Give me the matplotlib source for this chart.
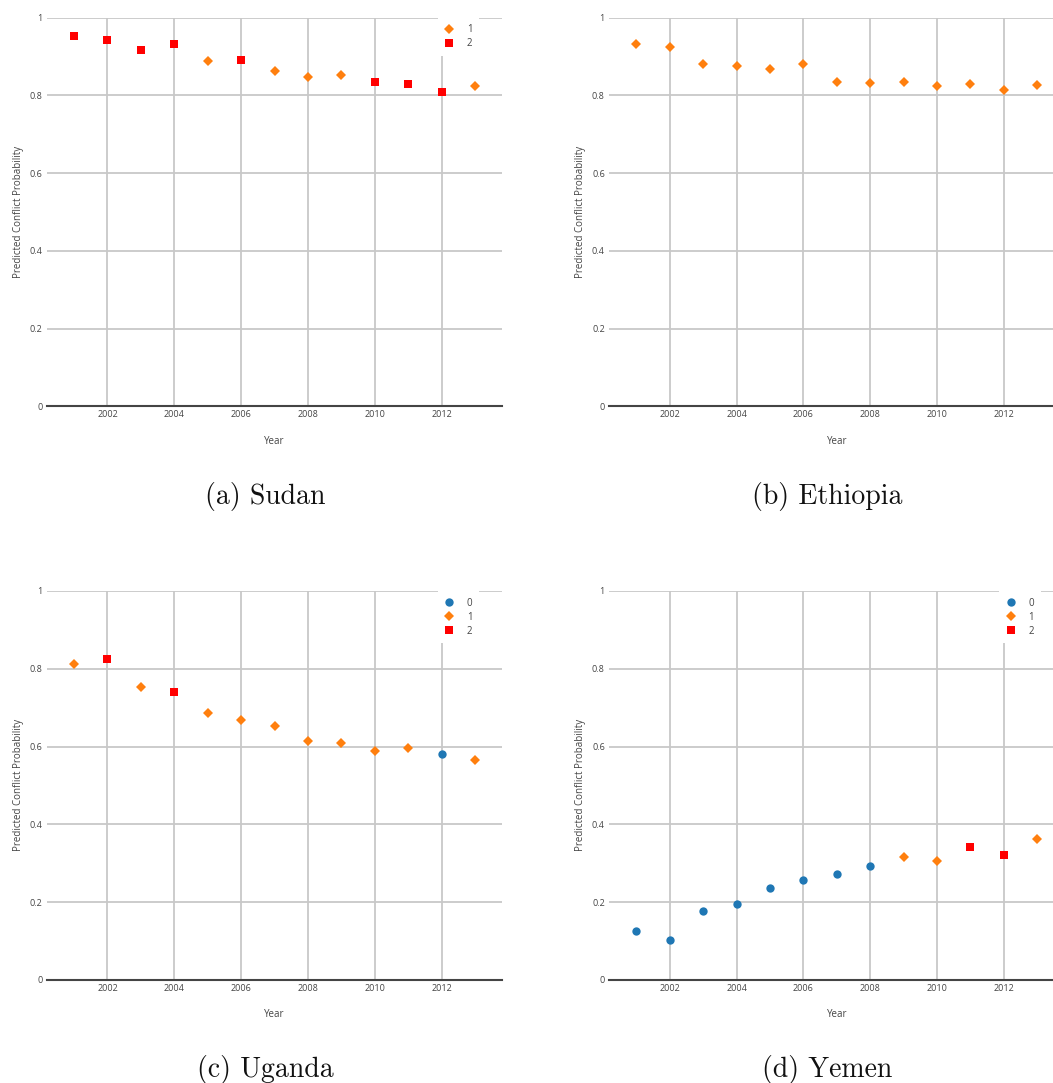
import matplotlib
matplotlib.use('Agg')
import matplotlib.pyplot as plt
from matplotlib.lines import Line2D

plt.rcParams['font.family'] = ['Open Sans', 'DejaVu Sans']

# ---------------- data ----------------
years = [2001, 2002, 2003, 2004, 2005, 2006, 2007, 2008, 2009, 2010, 2011, 2012, 2013]

sudan_prob = [0.952, 0.942, 0.916, 0.931, 0.889, 0.890, 0.862, 0.847, 0.852, 0.834, 0.829, 0.808, 0.823]
sudan_cls = [2, 2, 2, 2, 1, 2, 1, 1, 1, 2, 2, 2, 1]

ethiopia_prob = [0.931, 0.924, 0.880, 0.876, 0.867, 0.880, 0.835, 0.831, 0.835, 0.824, 0.828, 0.813, 0.826]
ethiopia_cls = [1, 1, 1, 1, 1, 1, 1, 1, 1, 1, 1, 1, 1]

uganda_prob = [0.811, 0.824, 0.752, 0.741, 0.686, 0.669, 0.652, 0.614, 0.609, 0.588, 0.597, 0.581, 0.565]
uganda_cls = [1, 2, 1, 2, 1, 1, 1, 1, 1, 1, 1, 0, 1]

yemen_prob = [0.125, 0.103, 0.177, 0.194, 0.235, 0.256, 0.273, 0.292, 0.316, 0.305, 0.342, 0.322, 0.362]
yemen_cls = [0, 0, 0, 0, 0, 0, 0, 0, 1, 1, 2, 2, 1]

captions = ['(a) Sudan', '(b) Ethiopia', '(c) Uganda', '(d) Yemen']
class_labels = ['0', '1', '2']
x_ticks = [2002, 2004, 2006, 2008, 2010, 2012]
y_ticks = [0, 0.2, 0.4, 0.6, 0.8, 1]
y_tick_labels = ['0', '0.2', '0.4', '0.6', '0.8', '1']
x_label = 'Year'
y_label = 'Predicted Conflict Probability'

series = [(sudan_prob, sudan_cls), (ethiopia_prob, ethiopia_cls),
          (uganda_prob, uganda_cls), (yemen_prob, yemen_cls)]

# ---------------- style ----------------
W, H = 1053, 1083
styles = {
    0: dict(marker='o', color='#1f77b4', ms=6.0),
    1: dict(marker='D', color='#ff7f0e', ms=4.7),
    2: dict(marker='s', color='#ff0000', ms=5.6),
}
TXT = '#444444'
GRID = '#c8c8c8'
FS = 6.5

# axes boxes in pixels: left, top, width, height
ax_w, ax_h = 455.6, 388.8
boxes = [(46.7, 17.5), (609.0, 17.5), (46.7, 591.0), (609.0, 591.0)]
legend_anchor = [(437.5, 17.5), None, (437.5, 591.0), (999.0, 591.0)]
caption_pos = [(265, 504), (827.5, 504), (265, 1076.5), (827.5, 1076.5)]

fig = plt.figure(figsize=(W / 100, H / 100), dpi=100)

for i, ((probs, cls), (lx, ty)) in enumerate(zip(series, boxes)):
    ax = fig.add_axes([lx / W, 1 - (ty + ax_h) / H, ax_w / W, ax_h / H])
    for s in ax.spines.values():
        s.set_visible(False)
    ax.set_xlim(2000.18, 2013.82)
    ax.set_ylim(0, 1)
    ax.set_xticks(x_ticks)
    ax.set_xticklabels([str(t) for t in x_ticks])
    ax.set_yticks(y_ticks)
    ax.set_yticklabels(y_tick_labels)
    ax.tick_params(length=0, labelsize=FS, labelcolor=TXT, pad=3)
    ax.grid(True, color=GRID, lw=1.3)
    ax.set_axisbelow(True)
    ax.axhline(0, color=TXT, lw=1.5, clip_on=False, zorder=1.5)

    handles = []
    for c in sorted(set(cls)):
        xs = [y for y, k in zip(years, cls) if k == c]
        ys = [p for p, k in zip(probs, cls) if k == c]
        st = styles[c]
        ax.plot(xs, ys, linestyle='none', marker=st['marker'], color=st['color'],
                ms=st['ms'], mew=0, zorder=3, clip_on=False)
        handles.append(Line2D([], [], linestyle='none', marker=st['marker'],
                              color=st['color'], ms=st['ms'], mew=0,
                              label=class_labels[c]))

    ax.set_xlabel(x_label, fontsize=FS + 0.5, color=TXT)
    ax.set_ylabel(y_label, fontsize=FS + 0.5, color=TXT)
    ax.xaxis.set_label_coords(0.5, -0.076)
    ax.yaxis.set_label_coords(-0.050, 0.5)

    if legend_anchor[i] is not None and len(handles) > 1:
        bx, by = legend_anchor[i]
        leg = ax.legend(handles=handles, loc='upper left',
                        bbox_to_anchor=(bx / W, 1 - by / H),
                        bbox_transform=fig.transFigure,
                        fontsize=FS + 0.5, labelcolor=TXT, frameon=True,
                        facecolor='white', edgecolor='none', framealpha=1,
                        fancybox=False, borderaxespad=0, borderpad=0.7,
                        handlelength=1.0, handletextpad=1.3, labelspacing=0.3,
                        numpoints=1)
        leg.set_zorder(5)

    cx, cy = caption_pos[i]
    fig.text(cx / W, 1 - cy / H, captions[i], family='cmr10', fontsize=20,
             ha='center', va='baseline', color='#111111')

fig.savefig('out.png', dpi=100)
